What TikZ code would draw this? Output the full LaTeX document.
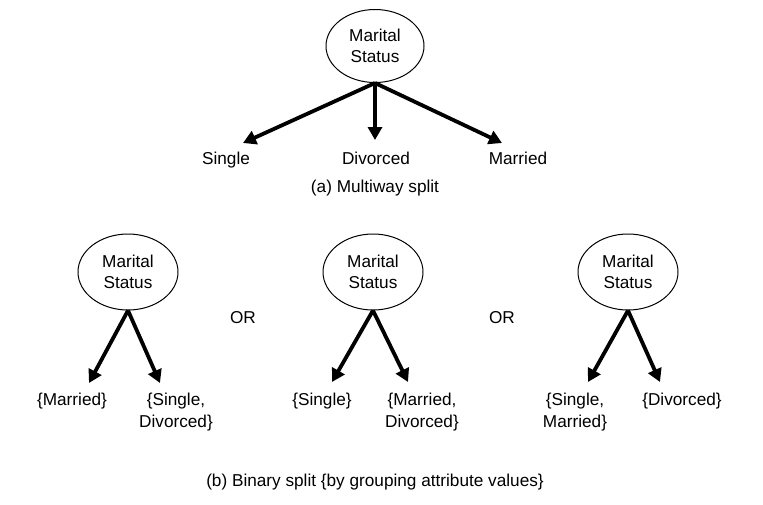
\documentclass[tikz,border=0pt]{standalone}
\usepackage{fontspec}
\setmainfont{Liberation Sans}
\usetikzlibrary{arrows.meta,shapes.geometric}
\begin{document}
\begin{tikzpicture}[x=1pt,y=-1pt,
  every node/.style={font=\fontsize{17.2}{21.5}\selectfont, align=center, inner sep=0pt, text=black},
  attr/.style={ellipse, draw, line width=1pt, minimum width=98pt, minimum height=73pt},
  attrb/.style={attr, minimum width=100pt, minimum height=76pt},
  branch/.style={line width=3.8pt, -{Triangle[length=13pt,width=14pt]}},
]
\useasboundingbox (0,0) rectangle (763,504);

% (a) multiway split
\node[attr] (m) at (375,46) {Marital\\Status};
\coordinate (ta1) at (243,143);
\coordinate (ta2) at (375,140);
\coordinate (ta3) at (502,143);
\node[anchor=base] (single) at (226,164) {Single};
\node[anchor=base] (divorced) at (376,164) {Divorced};
\node[anchor=base] (married) at (518,164) {Married};
\draw[branch] (m.south) -- (ta1);
\draw[branch] (m.south) -- (ta2);
\draw[branch] (m.south) -- (ta3);
\node[anchor=base] (capa) at (375,192) {(a) Multiway split};

% (b) binary splits
\node[attrb] (b1) at (128,272) {Marital\\Status};
\node[attrb] (b2) at (373,272) {Marital\\Status};
\node[attrb] (b3) at (628,272) {Marital\\Status};

\node (or1) at (243,318) {OR};
\node (or2) at (502,318) {OR};

\coordinate (t11) at (89,383);
\coordinate (t12) at (160,383);
\coordinate (t21) at (332,382);
\coordinate (t22) at (408,382);
\coordinate (t31) at (588,382);
\coordinate (t32) at (660,382);

\draw[branch] (b1.south) -- (t11);
\draw[branch] (b1.south) -- (t12);
\draw[branch] (b2.south) -- (t21);
\draw[branch] (b2.south) -- (t22);
\draw[branch] (b3.south) -- (t31);
\draw[branch] (b3.south) -- (t32);

\node[anchor=north] (l11) at (72,393) {\{Married\}};
\node[anchor=north] (l12) at (176,393) {\{Single,\\Divorced\}};
\node[anchor=north] (l21) at (322,393) {\{Single\}};
\node[anchor=north] (l22) at (422,393) {\{Married,\\Divorced\}};
\node[anchor=north] (l31) at (575,393) {\{Single,\\Married\}};
\node[anchor=north] (l32) at (682,393) {\{Divorced\}};

\node (capb) at (375,482) {(b) Binary split \{by grouping attribute values\}};
\end{tikzpicture}
\end{document}
